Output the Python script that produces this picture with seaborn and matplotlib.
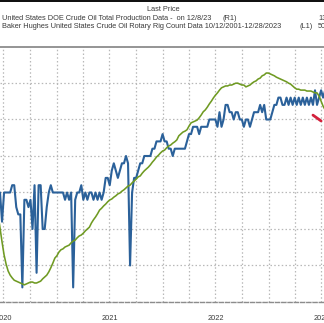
import matplotlib
matplotlib.use("Agg")
import matplotlib.pyplot as plt
import matplotlib.dates as mdates
import matplotlib.transforms as mtransforms
import numpy as np
import pandas as pd
import seaborn as sns

# ---------------- data ----------------
week_start = "2020-06-12"
production = [  # US crude oil production, mb/d (R1)
    11.0, 11.0, 10.6, 11.0, 11.0, 11.0, 11.0, 11.1, 11.1, 10.8,
    10.7, 10.7, 9.7, 10.9, 10.9, 10.8, 10.9, 10.5, 11.1, 9.9,
    11.1, 11.1, 10.5, 10.5, 10.8, 11.0, 11.1, 11.0, 11.0, 11.0,
    11.0, 11.0, 11.0, 10.9, 11.0, 10.9, 11.0, 9.7, 10.9, 11.0,
    11.0, 11.1, 10.9, 11.0, 10.9, 11.0, 11.0, 10.9, 11.0, 10.9,
    11.0, 10.9, 11.0, 11.2, 11.2, 11.1, 11.3, 11.4, 11.3, 11.2,
    11.3, 11.4, 11.4, 11.5, 11.4, 10.0, 11.0, 11.2, 11.2, 11.3,
    11.4, 11.4, 11.5, 11.5, 11.5, 11.5, 11.6, 11.6, 11.7, 11.7,
    11.7, 11.8, 11.7, 11.7, 11.6, 11.6, 11.5, 11.6, 11.6, 11.6,
    11.6, 11.6, 11.6, 11.7, 11.8, 11.8, 11.9, 11.9, 11.9, 11.8,
    11.9, 11.9, 11.9, 11.9, 12.0, 12.0, 12.0, 12.0, 11.9, 12.1,
    11.9, 12.0, 12.2, 12.2, 12.1, 12.1, 12.0, 12.1, 12.1, 12.0,
    12.0, 11.9, 12.0, 12.0, 11.9, 12.0, 12.1, 12.1, 12.1, 12.2,
    12.1, 12.2, 12.0, 12.0, 12.0, 12.1, 12.2, 12.2, 12.3, 12.3,
    12.2, 12.2, 12.3, 12.2, 12.3, 12.2, 12.3, 12.2, 12.3, 12.2,
    12.3, 12.2, 12.3, 12.2, 12.3, 12.2, 12.4, 12.2, 12.3, 12.4,
    12.3, 12.4,
]
rig_count = [  # Baker Hughes US oil rig count (L1)
    322, 291, 261, 233, 213, 198, 189, 183, 178, 176,
    174, 172, 170, 168, 170, 172, 174, 174, 172, 172,
    174, 176, 181, 185, 189, 196, 205, 215, 226, 231,
    239, 244, 246, 250, 252, 254, 259, 263, 265, 270,
    274, 276, 280, 285, 289, 293, 302, 309, 315, 322,
    330, 334, 339, 343, 348, 352, 354, 358, 361, 365,
    367, 371, 374, 378, 382, 384, 389, 393, 397, 402,
    404, 410, 415, 419, 423, 428, 434, 439, 445, 449,
    454, 458, 460, 465, 469, 471, 475, 478, 482, 491,
    495, 499, 501, 504, 512, 519, 521, 523, 525, 530,
    536, 543, 547, 553, 560, 566, 573, 579, 584, 590,
    595, 597, 599, 599, 601, 601, 603, 605, 605, 603,
    601, 601, 597, 599, 601, 605, 608, 610, 614, 616,
    621, 623, 627, 627, 625, 623, 621, 618, 616, 614,
    612, 610, 608, 605, 603, 599, 595, 592, 592, 590,
    590, 590, 588, 588, 588, 586, 584, 584, 577, 566,
    555, 547,
]
red_dates = ["2023-06-02", "2023-06-30"]
red_values = [12.06, 11.98]

title_text = "Last Price"
legend_labels = ["United States DOE Crude Oil Total Production Data -  on 12/8/23",
                 "Baker Hughes United States Crude Oil Rotary Rig Count Data 10/12/2001-12/28/2023"]
legend_axes = ["(R1)", "(L1)"]
legend_last = ["13.10", "501"]
year_labels = ["2020", "2021", "2022", "2023"]

# ---------------- style ----------------
sns.set_theme(style="white")
plt.rcParams["font.family"] = ["Liberation Sans", "DejaVu Sans"]

W, H = 324, 323
fig = plt.figure(figsize=(W / 100, H / 100), dpi=100)
fig.patch.set_facecolor("white")

def fy(ypx):
    return 1 - ypx / H

ax_top_px, ax_bot_px = 46.5, 302.0
pos = [0.0, fy(ax_bot_px), 1.0, (ax_bot_px - ax_top_px) / H]
ax_r = fig.add_axes(pos)          # production (right scale), grid
ax_l = fig.add_axes(pos)          # rig count (left scale)
ax_l.patch.set_visible(False)

dates = pd.date_range(week_start, periods=len(production), freq="7D")
df = pd.DataFrame({"date": dates, "production": production, "rigs": rig_count})
df_red = pd.DataFrame({"date": pd.to_datetime(red_dates), "value": red_values})

blue = "#2b619a"
green = "#6f9a22"
red = "#d3213c"

sns.lineplot(data=df, x="date", y="production", ax=ax_r, color=blue, linewidth=1.5)
sns.lineplot(data=df_red, x="date", y="value", ax=ax_r, color=red, linewidth=2.0)
sns.lineplot(data=df, x="date", y="rigs", ax=ax_l, color=green, linewidth=1.15)

xmin, xmax = pd.Timestamp("2020-06-19"), pd.Timestamp("2023-07-10")
for a in (ax_r, ax_l):
    a.set_xlim(xmin, xmax)
    a.set_xlabel("")
    a.set_ylabel("")

ax_r.set_ylim(9.5, 13.0)
ax_l.set_ylim(130.8, 684.5)

# grid on the production axes
grid_kw = dict(color="#b8b8b8", linestyle=(0, (1.2, 1.8)), linewidth=0.9)
ax_r.set_yticks(np.arange(9.5, 13.01, 0.5))
ax_r.xaxis.set_major_locator(mdates.MonthLocator(bymonth=[1, 4, 7, 10]))
ax_r.grid(True, axis="both", **grid_kw)
ax_r.tick_params(axis="both", length=0, labelbottom=False, labelleft=False)
for s in ax_r.spines.values():
    s.set_visible(False)

# axis frame on the rig axes
ax_l.set_yticks([])
ax_l.grid(False)
ax_l.xaxis.set_major_locator(mdates.YearLocator())
ax_l.xaxis.set_minor_locator(mdates.MonthLocator())
ax_l.tick_params(axis="x", which="major", length=14.5, width=0.8, color="#c8c8c8",
                 direction="out", labelbottom=False)
ax_l.tick_params(axis="x", which="minor", length=2.2, width=0.7, color="#9a9a9a",
                 direction="out")
ax_l.spines["left"].set_visible(False)
ax_l.spines["right"].set_visible(False)
ax_l.spines["top"].set_color("#8c8c8c")
ax_l.spines["top"].set_linewidth(1.3)
ax_l.spines["bottom"].set_color("#8c8c8c")
ax_l.spines["bottom"].set_linewidth(1.0)
ax_l.spines["bottom"].set_linestyle((0, (3, 1.5)))

# ---------------- header ----------------
txt_color = "#3a3a3a"
fig.add_artist(plt.Rectangle((0, fy(1.6)), 1, 1.6 / H, transform=fig.transFigure,
                             color="#111111", lw=0))

fs = 5.0
probe = fig.text(0, 0, legend_labels[1], fontsize=fs)
fig.canvas.draw()
wpx = probe.get_window_extent(fig.canvas.get_renderer()).width
probe.remove()
fs = fs * 285.0 / wpx

fig.text(163 / W, fy(9.8), title_text, fontsize=fs, color=txt_color,
         ha="center", va="center")
for k, ypx in enumerate([19.0, 26.5]):
    fig.text(2.5 / W, fy(ypx), legend_labels[k], fontsize=fs, color=txt_color,
             ha="left", va="center")
    fig.text((222 if k == 0 else 300) / W, fy(ypx), legend_axes[k], fontsize=fs,
             color=txt_color, ha="left", va="center")
    fig.text(318 / W, fy(ypx), legend_last[k], fontsize=fs, color=txt_color,
             ha="left", va="center")

# year labels centred within each year
trans = mtransforms.blended_transform_factory(ax_l.transData, fig.transFigure)
for lab in year_labels:
    mid = pd.Timestamp(f"{lab}-07-02")
    ax_l.text(mdates.date2num(mid), fy(318), lab, transform=trans, fontsize=fs,
              color=txt_color, ha="center", va="center", clip_on=False)

fig.savefig("out.png", dpi=100, facecolor="white")
